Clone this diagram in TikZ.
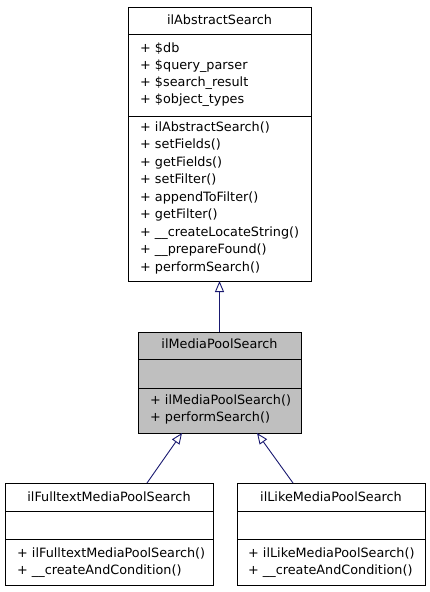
\documentclass[tikz,border=0pt]{standalone}
\usepackage{fontspec}
\setmainfont{DejaVu Sans}
\usetikzlibrary{arrows.meta}
\definecolor{edgeblue}{HTML}{191970}
\definecolor{hlgray}{HTML}{BFBFBF}
\begin{document}
\begin{tikzpicture}[x=1pt,y=-1pt,
  box/.style={draw, line width=1pt, anchor=north west, inner sep=0pt, outer sep=0pt},
  sep/.style={line width=1pt},
  txt/.style={anchor=base west, inner sep=0pt, font=\fontsize{12.8}{15}\selectfont},
  ttl/.style={anchor=base, inner sep=0pt, font=\fontsize{12.8}{15}\selectfont},
  inh/.style={draw=edgeblue, line width=0.9pt, -{Triangle[open, length=11pt, width=9pt]}}]
\useasboundingbox (0,0) rectangle (429,592);
% boxes
\node[box, minimum width=183pt, minimum height=274pt] (A) at (128,7) {};
\node[box, fill=hlgray, minimum width=163pt, minimum height=101pt] (M) at (138,332) {};
\node[box, minimum width=208pt, minimum height=102pt] (F) at (5,483) {};
\node[box, minimum width=188pt, minimum height=102pt] (L) at (237,483) {};
% separators
\draw[sep] (A.west |- 0,34) -- (A.east |- 0,34);
\draw[sep] (A.west |- 0,116) -- (A.east |- 0,116);
\draw[sep] (M.west |- 0,359) -- (M.east |- 0,359);
\draw[sep] (M.west |- 0,388) -- (M.east |- 0,388);
\draw[sep] (F.west |- 0,511) -- (F.east |- 0,511);
\draw[sep] (F.west |- 0,539) -- (F.east |- 0,539);
\draw[sep] (L.west |- 0,511) -- (L.east |- 0,511);
\draw[sep] (L.west |- 0,539) -- (L.east |- 0,539);
% texts A
\node[ttl] (At) at (219.5,24.5) {ilAbstractSearch};
\node[txt] (A1) at (140,52) {+ \$db};
\node[txt] (A2) at (140,69) {+ \$query\_parser};
\node[txt] (A3) at (140,86) {+ \$search\_result};
\node[txt] (A4) at (140,103) {+ \$object\_types};
\node[txt] (Am1) at (140,131) {+ ilAbstractSearch()};
\node[txt] (Am2) at (140,148.5) {+ setFields()};
\node[txt] (Am3) at (140,166) {+ getFields()};
\node[txt] (Am4) at (140,183.5) {+ setFilter()};
\node[txt] (Am5) at (140,201) {+ appendToFilter()};
\node[txt] (Am6) at (140,218.5) {+ getFilter()};
\node[txt] (Am7) at (140,236) {+ \_\_createLocateString()};
\node[txt] (Am8) at (140,253.5) {+ \_\_prepareFound()};
\node[txt] (Am9) at (140,271) {+ performSearch()};
% texts M
\node[ttl] (Mt) at (219.5,348.5) {ilMediaPoolSearch};
\node[txt] (Mm1) at (150,404) {+ ilMediaPoolSearch()};
\node[txt] (Mm2) at (150,421.5) {+ performSearch()};
% texts F
\node[ttl] (Ft) at (109,501.5) {ilFulltextMediaPoolSearch};
\node[txt] (Fm1) at (17,557) {+ ilFulltextMediaPoolSearch()};
\node[txt] (Fm2) at (17,574.5) {+ \_\_createAndCondition()};
% texts L
\node[ttl] (Lt) at (331,501.5) {ilLikeMediaPoolSearch};
\node[txt] (Lm1) at (248,557) {+ ilLikeMediaPoolSearch()};
\node[txt] (Lm2) at (248,574.5) {+ \_\_createAndCondition()};
% inheritance
\draw[inh] (M.north) -- (A.south);
\draw[inh] ([xshift=142pt]F.north west) -- ([xshift=44pt]M.south west);
\draw[inh] ([xshift=56pt]L.north west) -- ([xshift=119pt]M.south west);
\end{tikzpicture}
\end{document}
